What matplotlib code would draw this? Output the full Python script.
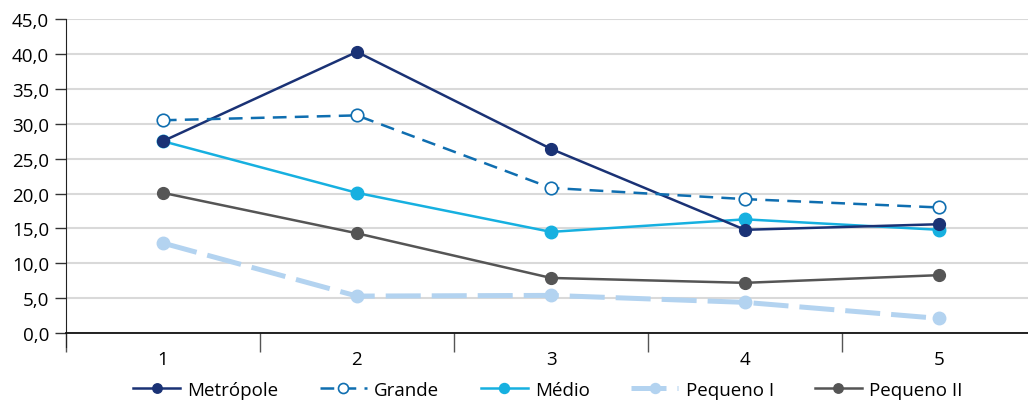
import matplotlib.pyplot as plt
import numpy as np

plt.rcParams['font.family'] = ['Open Sans', 'DejaVu Sans']

categorias = ['1', '2', '3', '4', '5']
metropole = [27.5, 40.3, 26.4, 14.8, 15.6]
grande = [30.5, 31.2, 20.8, 19.2, 18.0]
medio = [27.5, 20.1, 14.5, 16.3, 14.8]
pequeno_1 = [12.9, 5.3, 5.4, 4.4, 2.1]
pequeno_2 = [20.1, 14.3, 7.9, 7.2, 8.3]
y_ticks = [0, 5, 10, 15, 20, 25, 30, 35, 40, 45]

fig = plt.figure(figsize=(10.28, 4.02), dpi=100)
ax = fig.add_axes([0.064, 0.169, 0.944, 0.781])

x = np.arange(1, len(categorias) + 1)

ax.plot(x, pequeno_1, color='#b3d3f0', lw=3.6, ls=(0, (7, 2.2)),
        marker='o', ms=9, label='Pequeno I', zorder=3)
ax.plot(x, pequeno_2, color='#555555', lw=1.8, marker='o', ms=8.5,
        label='Pequeno II', zorder=4)
ax.plot(x, medio, color='#16b0e0', lw=1.8, marker='o', ms=9,
        label='Médio', zorder=5)
ax.plot(x, metropole, color='#1a3275', lw=1.8, marker='o', ms=8.5,
        label='Metrópole', zorder=6)
ax.plot(x, grande, color='#0f6eb0', lw=1.8, ls=(0, (5.5, 3.3)), marker='o', ms=9,
        mfc='white', mec='#0f6eb0', mew=1.2, label='Grande', zorder=7)

ax.set_xlim(0.5, 5.5)
ax.set_ylim(0, 45)
ax.set_yticks(y_ticks)
ax.set_yticklabels([f'{v:.1f}'.replace('.', ',') for v in y_ticks], fontsize=13.5)
ax.set_xticks(x)
ax.set_xticklabels(categorias, fontsize=13.5)
ax.set_xticks(np.arange(0.5, 6, 1), minor=True)
ax.tick_params(axis='x', which='major', length=0, pad=12)
ax.tick_params(axis='x', which='minor', length=14, width=1, color='#555555')
ax.tick_params(axis='y', length=8, width=1, color='#333333', pad=4)

ax.grid(axis='y', color='#d9d9d9', lw=1.5)
ax.set_axisbelow(True)
for s in ['top', 'right']:
    ax.spines[s].set_visible(False)
ax.spines['left'].set_color('#222222')
ax.spines['left'].set_bounds(-2, 45)
ax.spines['bottom'].set_color('#111111')
ax.spines['bottom'].set_linewidth(1.3)

h, l = ax.get_legend_handles_labels()
order = ['Metrópole', 'Grande', 'Médio', 'Pequeno I', 'Pequeno II']
hs = [h[l.index(n)] for n in order]
fig.legend(hs, order, loc='center', bbox_to_anchor=(0.533, 0.028), ncol=5,
           frameon=False, fontsize=13.5, handlelength=2.5, handletextpad=0.4,
           columnspacing=2.2, markerscale=0.8)

fig.savefig('out.png', dpi=100)
